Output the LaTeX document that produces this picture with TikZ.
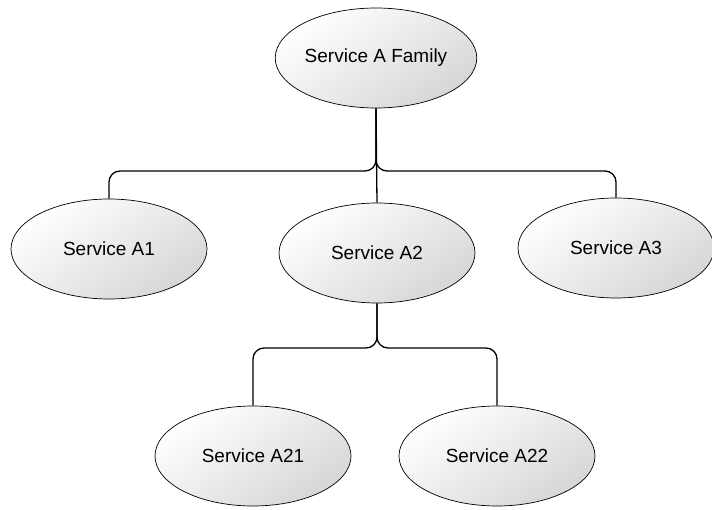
\documentclass[tikz,border=0pt]{standalone}
\usepackage{fontspec}
\setmainfont{Liberation Sans}
\usetikzlibrary{shapes.geometric}
\begin{document}
\begin{tikzpicture}[x=1pt,y=-1pt,
  svc/.style={ellipse, draw=black, line width=0.7pt,
    top color=white, bottom color=black!16, shading angle=35,
    minimum width=196pt, minimum height=100pt, inner sep=0pt,
    font=\fontsize{19}{22}\selectfont},
  conn/.style={draw=black, line width=1.3pt, rounded corners=11pt}]
  \useasboundingbox (0,0) rectangle (712,510);

  % service nodes
  \node[svc] (fam) at (376,58)  {Service A Family};
  \node[svc] (a1)  at (109,249) {Service A1};
  \node[svc] (a2)  at (377,253) {Service A2};
  \node[svc] (a3)  at (616,248) {Service A3};
  \node[svc] (a21) at (253,456) {Service A21};
  \node[svc] (a22) at (497,456) {Service A22};

  % heights of the horizontal branch lines
  \coordinate (bus1) at (377,171);
  \coordinate (bus2) at (377,348);

  % branches from the family node
  \draw[conn] (fam.south) |- (a1.north |- bus1) -- (a1.north);
  \draw[conn] (fam.south) |- (a3.north |- bus1) -- (a3.north);
  \draw[conn] (fam.south) -- (a2.north);

  % branches from Service A2
  \draw[conn] (a2.south) |- (a21.north |- bus2) -- (a21.north);
  \draw[conn] (a2.south) |- (a22.north |- bus2) -- (a22.north);
\end{tikzpicture}
\end{document}
